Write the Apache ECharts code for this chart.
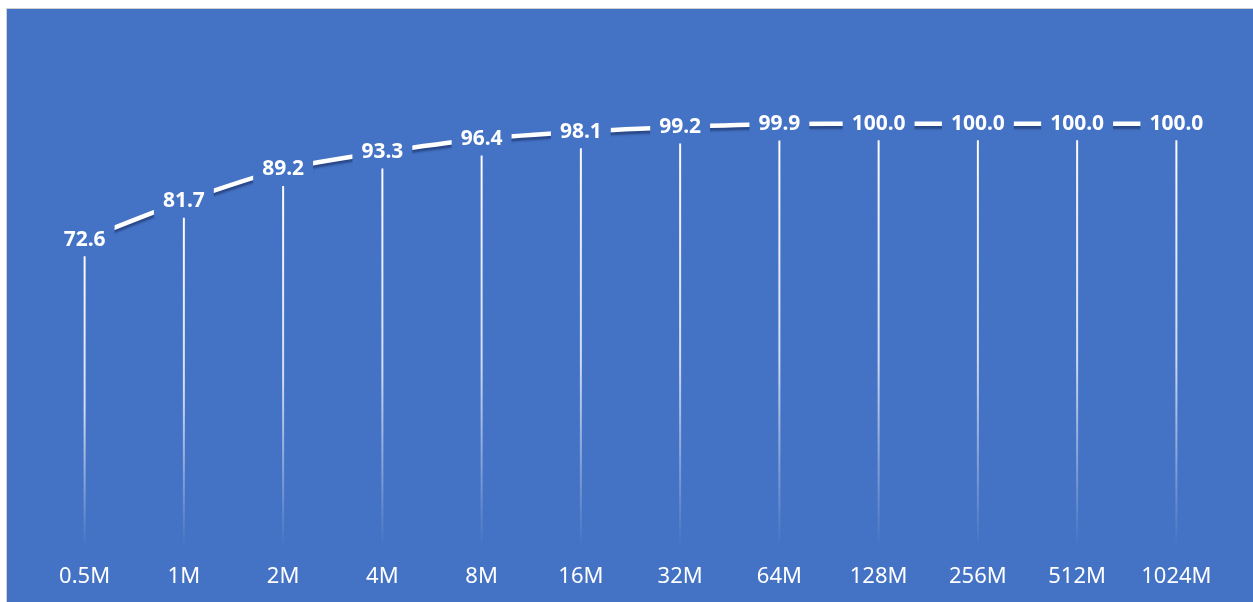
<!DOCTYPE html>
<html>
<head>
<meta charset="utf-8">
<script src="https://cdn.jsdelivr.net/npm/echarts@6/dist/echarts.min.js"></script>
<style>
  html, body { margin: 0; padding: 0; background: #ffffff; }
  #chart { width: 1253px; height: 602px; }
</style>
</head>
<body>
<div id="chart"></div>
<script>
// Hit rate (%) by cache size
const categories = ['0.5M', '1M', '2M', '4M', '8M', '16M', '32M', '64M', '128M', '256M', '512M', '1024M'];
const hitRate = [72.6, 81.7, 89.2, 93.3, 96.4, 98.1, 99.2, 99.9, 100.0, 100.0, 100.0, 100.0];

const BG = '#4472C4';
const chart = echarts.init(document.getElementById('chart'), null, { renderer: 'canvas' });

chart.setOption({
  backgroundColor: '#ffffff',
  animation: false,
  graphic: [{
    type: 'rect',
    z: -10,
    silent: true,
    shape: { x: 6.5, y: 8.5, width: 1260, height: 610 },
    style: { fill: BG, stroke: '#d0d0d0', lineWidth: 1 }
  }],
  grid: { left: 35, right: 27, top: 39, bottom: 55, containLabel: false },
  xAxis: {
    type: 'category',
    data: categories,
    boundaryGap: true,
    axisLine: { show: false },
    axisTick: { show: false },
    splitLine: { show: false },
    axisLabel: {
      color: '#ffffff',
      fontFamily: 'Noto Sans',
      fontSize: 22,
      margin: 19
    }
  },
  yAxis: {
    type: 'value',
    min: 0,
    max: 120,
    show: false,
    splitLine: { show: false }
  },
  series: [
    {
      // drop lines from each point down to the axis
      type: 'bar',
      data: hitRate,
      barWidth: 2,
      z: 2,
      silent: true,
      itemStyle: {
        color: {
          type: 'linear', x: 0, y: 0, x2: 0, y2: 1,
          colorStops: [
            { offset: 0, color: 'rgba(255,255,255,1)' },
            { offset: 0.55, color: 'rgba(255,255,255,0.75)' },
            { offset: 1, color: 'rgba(255,255,255,0)' }
          ]
        }
      }
    },
    {
      type: 'line',
      data: hitRate,
      z: 5,
      smooth: 0.3,
      symbol: 'circle',
      symbolSize: 2,
      itemStyle: { color: BG },
      lineStyle: {
        color: '#ffffff',
        width: 4.5,
        shadowColor: 'rgba(20,40,90,0.55)',
        shadowBlur: 2,
        shadowOffsetY: 3
      },
      label: {
        show: true,
        position: 'inside',
        formatter: p => p.value.toFixed(1),
        color: '#ffffff',
        fontFamily: 'Noto Sans',
        fontWeight: 'bold',
        fontSize: 21,
        backgroundColor: BG,
        padding: [6, 9, 6, 9]
      }
    }
  ]
});
</script>
</body>
</html>
